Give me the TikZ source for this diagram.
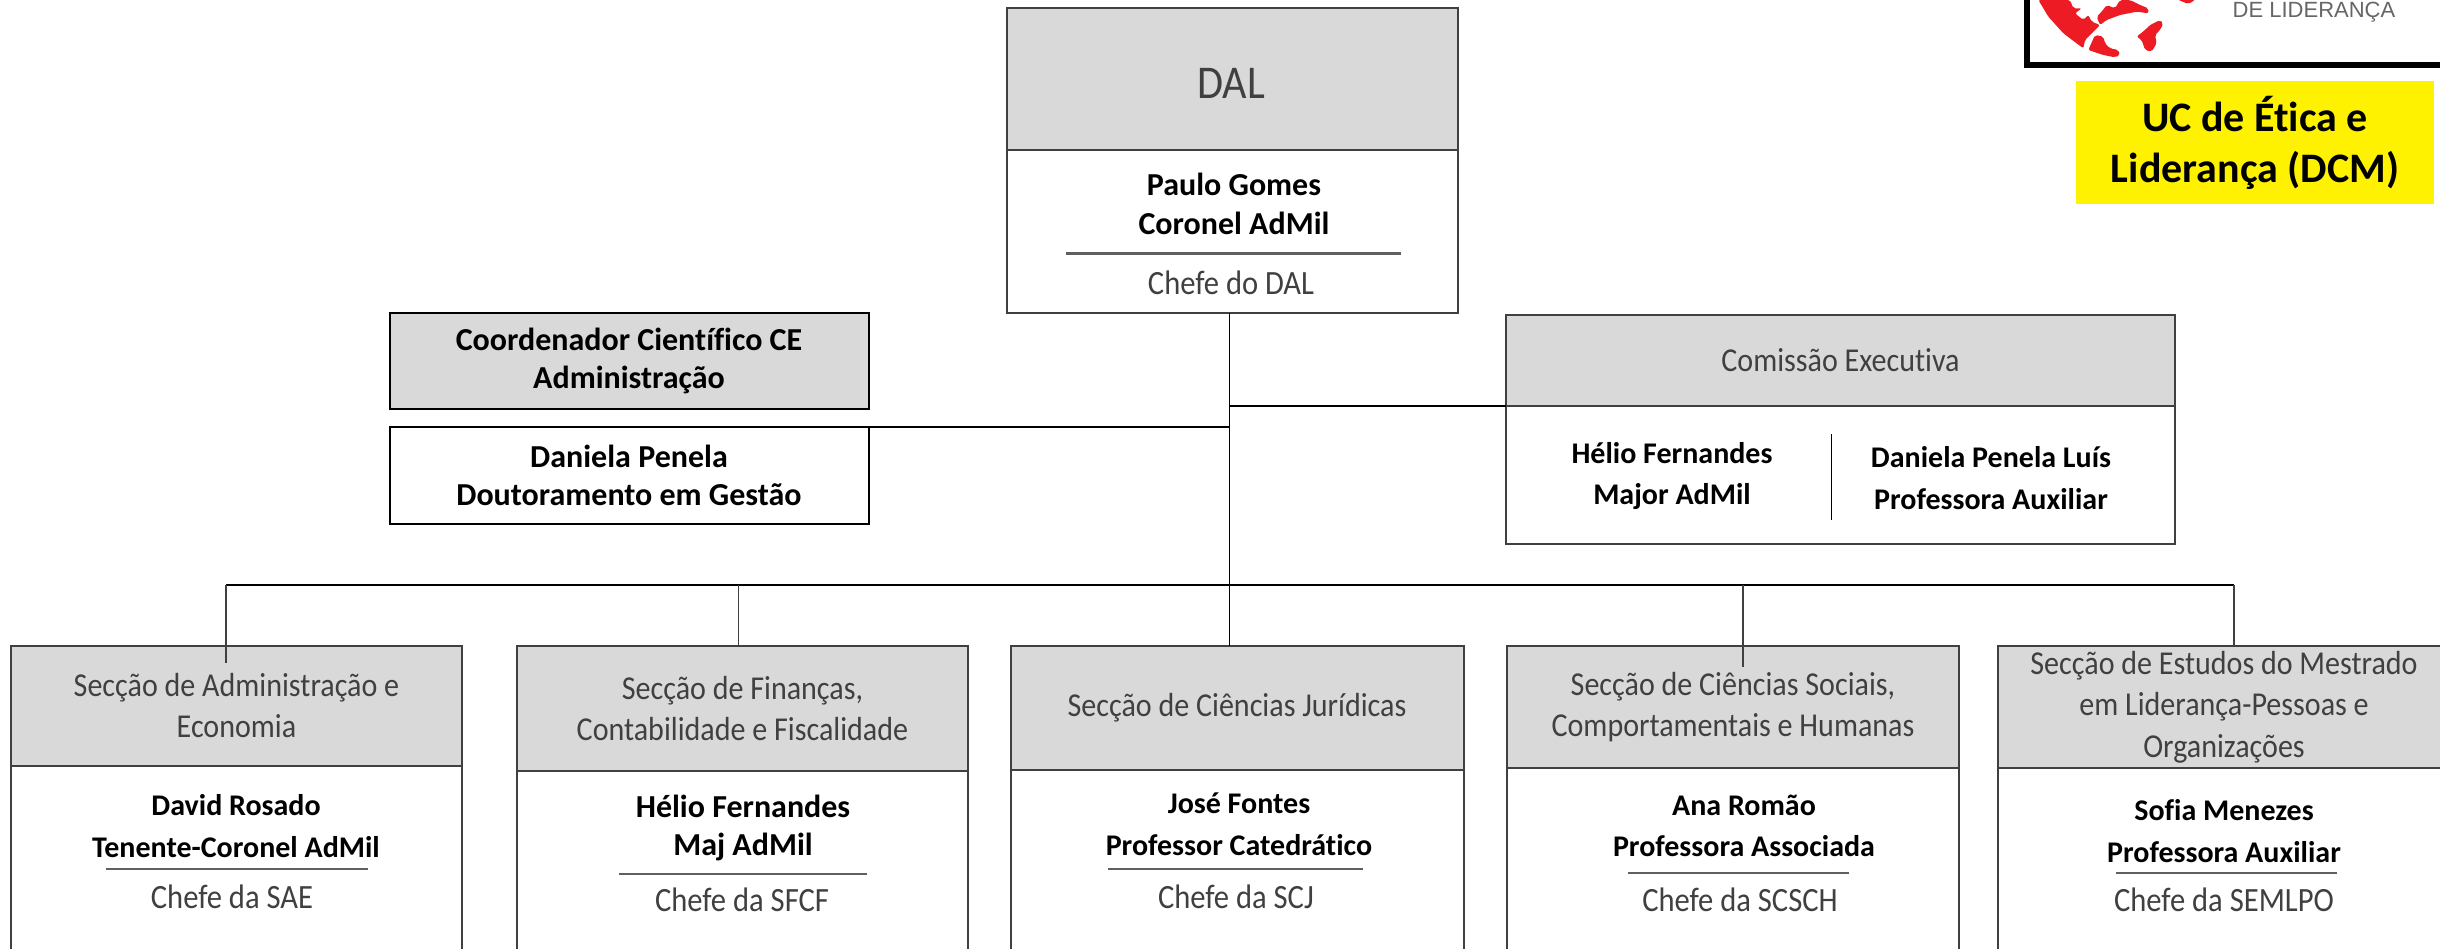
\documentclass[tikz,border=0pt]{standalone}
\usepackage{fontspec}
\setmainfont[Ligatures=NoCommon]{Carlito}
\newfontfamily\narrowfont[Ligatures=NoCommon,FakeStretch=0.9]{Carlito}
\newfontfamily\logofont{Liberation Sans}
\usetikzlibrary{calc,positioning}
\definecolor{headgray}{HTML}{D9D9D9}
\definecolor{linegray}{HTML}{404040}
\definecolor{textgray}{HTML}{404040}
\definecolor{rulegray}{HTML}{606060}
\definecolor{logored}{HTML}{ED1C24}
\tikzstyle{headbox}=[draw=linegray,line width=2pt,fill=headgray,inner sep=0pt,outer sep=0pt,align=center,text=textgray,font=\narrowfont\fontsize{33.4}{41}\selectfont]
\tikzstyle{bodybox}=[draw=linegray,line width=2pt,fill=white,inner sep=0pt,outer sep=0pt]
\tikzstyle{who}=[inner sep=0pt,align=center,font=\bfseries\fontsize{30}{41.5}\selectfont]
\tikzstyle{whoclear}=[who,font=\bfseries\fontsize{32}{38.5}\selectfont]
\tikzstyle{post}=[inner sep=0pt,align=center,text=textgray,font=\narrowfont\fontsize{34}{40}\selectfont]
\tikzstyle{lin}=[draw=black,line width=1.6pt]
\tikzstyle{rulelin}=[draw=rulegray,line width=2.5pt]

\begin{document}
\begin{tikzpicture}[x=1pt,y=-1pt]
      \clip (0,0) rectangle (2440,948);
      \useasboundingbox (0,0) rectangle (2440,948);
      \fill[white] (0,0) rectangle (2440,948);

      % top box
      \node [headbox,minimum width=451pt,minimum height=142pt] (dal) at (1232,79) {};
      \node [bodybox,minimum width=451pt,minimum height=163pt] (dalb) [node distance=152.5pt,below of=dal] {};
      \node [post,font=\narrowfont\fontsize{47}{50}\selectfont] (daltitle) at (1231,83) {DAL};
      \node [whoclear] (dalname) at (1234,204) {Paulo Gomes\\Coronel AdMil};
      \node [post] (dalrole) at (1231,283) {Chefe do DAL};
      \draw [rulelin] ($(dalb.center)+(-166,22)$) -- ($(dalb.center)+(169,22)$);

      % left box
      \node [headbox,draw=black,minimum width=479pt,minimum height=96pt,text=black,font=\bfseries\fontsize{32}{38.5}\selectfont] (cc) at (629,361) {Coordenador Científico CE\\Administração};
      \node [bodybox,draw=black,minimum width=479pt,minimum height=97pt] (ccb) at (629,475.5) {};
      \node [whoclear] (ccname) at (ccb.center) {Daniela Penela\\Doutoramento em Gestão};

      % right box
      \node [headbox,minimum width=669pt,minimum height=91pt] (ce) at (1840.5,360.5) {Comissão Executiva};
      \node [bodybox,minimum width=669pt,minimum height=138pt] (ceb) [node distance=114.5pt,below of=ce] {};
      \node [who] (cename1) at (1672,476) {Hélio Fernandes\\Major AdMil};
      \node [who] (cename2) at (1991,478) {Daniela Penela Luís\\Professora Auxiliar};
      \coordinate (cesept) at (1831.5,434);
      \coordinate (cesepb) at (1831.5,520);
      \draw [lin] (cesept) -- (cesepb);

      % sections
      \node [headbox,minimum width=451pt,minimum height=120pt] (sec1) at (236.5,706) {Secção de Administração e\\Economia};
      \node [bodybox,minimum width=451pt,minimum height=194pt] (sec1b) [node distance=157pt,below of=sec1] {};
      \node [who] (sec1name) at (236,826) {David Rosado\\Tenente-Coronel AdMil};
      \node [post] (sec1role) at (232,897) {Chefe da SAE};
      \draw [rulelin] ($(sec1b.north)+(-131,103)$) -- ($(sec1b.north)+(131,103)$);

      \node [headbox,minimum width=451pt,minimum height=125pt] (sec2) at (742.5,708.5) {Secção de Finanças,\\Contabilidade e Fiscalidade};
      \node [bodybox,minimum width=451pt,minimum height=190pt] (sec2b) [node distance=157.5pt,below of=sec2] {};
      \node [whoclear] (sec2name) at (743,828) {Hélio Fernandes\\Maj AdMil};
      \node [post] (sec2role) at (742,900) {Chefe da SFCF};
      \draw [rulelin] ($(sec2b.north)+(-124,103)$) -- ($(sec2b.north)+(124,103)$);

      \node [headbox,minimum width=453pt,minimum height=124pt] (sec3) at (1237,708) {Secção de Ciências Jurídicas};
      \node [bodybox,minimum width=453pt,minimum height=190pt] (sec3b) [node distance=157pt,below of=sec3] {};
      \node [who] (sec3name) at (1239,824) {José Fontes\\Professor Catedrático};
      \node [post] (sec3role) at (1236,897) {Chefe da SCJ};
      \draw [rulelin] ($(sec3b.north)+(-129,99)$) -- ($(sec3b.north)+(126,99)$);

      \node [headbox,minimum width=452pt,minimum height=122pt] (sec4) at (1733,707) {Secção de Ciências Sociais,\\Comportamentais e Humanas};
      \node [bodybox,minimum width=452pt,minimum height=192pt] (sec4b) [node distance=157pt,below of=sec4] {};
      \node [who] (sec4name) at (1744,826) {Ana Romão\\Professora Associada};
      \node [post] (sec4role) at (1740,900) {Chefe da SCSCH};
      \draw [rulelin] ($(sec4b.north)+(-105,105)$) -- ($(sec4b.north)+(116,105)$);

      \node [headbox,minimum width=452pt,minimum height=122pt,font=\narrowfont\fontsize{33.4}{41.5}\selectfont] (sec5) at (2224,707) {Secção de Estudos do Mestrado\\em Liderança-Pessoas e\\Organizações};
      \node [bodybox,minimum width=452pt,minimum height=192pt] (sec5b) [node distance=157pt,below of=sec5] {};
      \node [who] (sec5name) at (2224,831) {Sofia Menezes\\Professora Auxiliar};
      \node [post] (sec5role) at (2224,900) {Chefe da SEMLPO};
      \draw [rulelin] ($(sec5b.north)+(-108,105)$) -- ($(sec5b.north)+(113,105)$);

      % connectors
      \coordinate (bus) at (1229.5,585);
      \coordinate (busl) at (226,585);
      \coordinate (busr) at (2234,585);
      \coordinate (ceturn) at (bus |- ce.south);
      \coordinate (ccturn) at (bus |- ccb.north east);
      \coordinate (top2) at (738.5,585);
      \coordinate (top4) at (1743,585);
      \coordinate (drop1) at (226,663);
      \coordinate (drop4) at (1743,667);
      \draw [lin] (bus |- dalb.south) -- (bus);
      \draw [lin,line width=2.2pt] (busl) -- (busr);
      \draw [lin] (ceturn) -- (ce.south west);
      \draw [lin] (ccturn) -- (ccb.north east);
      \draw [lin,draw=linegray] (busl) -- (drop1);
      \draw [lin,draw=linegray] (top2) -- (top2 |- sec2.north);
      \draw [lin] (bus) -- (bus |- sec3.north);
      \draw [lin,draw=linegray] (top4) -- (drop4);
      \draw [lin,draw=linegray] (busr) -- (busr |- sec5.north);

      % logo
      \draw [draw=black,line width=6pt,fill=white] (2027,-10) -- (2027,65) -- (2450,65);
      \begin{scope}[shift={(2020,0)},x=0.3333pt,y=-0.3333pt]
        \fill [logored,rounded corners=2pt] (55,0) -- (85,50) -- (130,100) -- (190,145) -- (195,120) -- (215,100) -- (240,75) -- (215,65) -- (205,45) -- (190,60) -- (165,40) -- (185,25) -- (160,25) -- (150,0) -- cycle;
        \fill [logored,rounded corners=2pt] (240,75) -- (260,60) -- (300,45) -- (350,35) -- (385,40) -- (385,25) -- (360,15) -- (330,0) -- (300,0) -- (285,25) -- (260,15) -- (245,35) -- (230,50) -- cycle;
        \fill [logored,rounded corners=2pt] (205,150) -- (225,105) -- (250,110) -- (255,130) -- (270,145) -- (295,150) -- (300,165) -- (285,172) -- (250,165) -- cycle;
        \fill [logored,rounded corners=2pt] (350,110) -- (375,90) -- (390,75) -- (420,60) -- (430,70) -- (420,90) -- (405,105) -- (410,130) -- (395,155) -- (375,150) -- (365,120) -- cycle;
        \fill [logored,rounded corners=2pt] (475,0) -- (505,12) -- (525,0) -- cycle;
      \end{scope}
      \node [inner sep=0pt,text=black!60,font=\logofont\fontsize{22}{22}\selectfont] (logotext) at (2314,12) {DE LIDERANÇA};

      % yellow label
      \node [fill=yellow,minimum width=358pt,minimum height=123pt,inner sep=0pt,align=center,font=\bfseries\fontsize{42}{51}\selectfont] (uc) at (2255,142.5) {UC de Ética e\\Liderança (DCM)};
\end{tikzpicture}
\end{document}
